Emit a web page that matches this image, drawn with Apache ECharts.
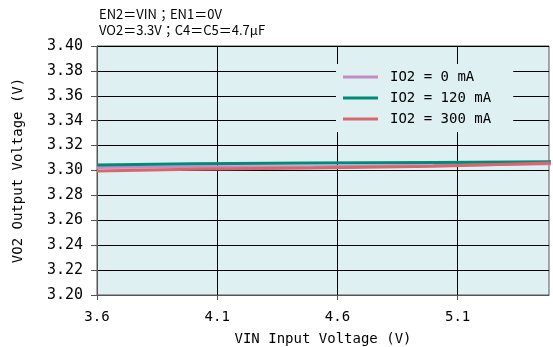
<!DOCTYPE html>
<html>
<head>
<meta charset="utf-8">
<script src="https://cdn.jsdelivr.net/npm/echarts@6/dist/echarts.min.js"></script>
<style>
  html, body { margin: 0; padding: 0; background: #fff; }
  #chart { width: 553px; height: 347px; }
</style>
</head>
<body>
<div id="chart"></div>
<script>
// input voltage (V)
const vin = [3.6, 4.0, 4.5, 5.0, 5.5];
// output voltage (V) per load current
const io0 = [3.3025, 3.3030, 3.3030, 3.3040, 3.3055];
const io120 = [3.3045, 3.3055, 3.3060, 3.3065, 3.3070];
const io300 = [3.2995, 3.3010, 3.3020, 3.3035, 3.3060];
const seriesNames = ["IO2 = 0 mA", "IO2 = 120 mA", "IO2 = 300 mA"];
const xTicks = [3.6, 4.1, 4.6, 5.1];

const colors = ["#c48cc4", "#008a78", "#d8666a"];
const mono = "DejaVu Sans Mono";

const chart = echarts.init(document.getElementById("chart"));

const pts = (ys) => vin.map((x, i) => [x, ys[i]]);

const option = {
  animation: false,
  title: {
    text: "EN2＝VIN；EN1＝0V\nVO2＝3.3V；C4＝C5＝4.7μF",
    left: 94,
    top: 1,
    textStyle: {
      fontFamily: "Noto Sans CJK JP",
      fontSize: 13,
      fontWeight: "normal",
      color: "#000",
      lineHeight: 16,
    },
  },
  grid: {
    left: 97,
    right: 4,
    top: 46,
    bottom: 52,
    outerBoundsMode: "none",
    containLabel: false,
    show: true,
    backgroundColor: "#dff0f3",
    borderColor: "#555",
    borderWidth: 1,
  },
  legend: {
    orient: "vertical",
    left: 336,
    top: 64,
    backgroundColor: "#dff0f3",
    padding: [6, 22, 6, 7],
    itemGap: 7,
    itemWidth: 35,
    itemHeight: 3,
    icon: "rect",
    data: seriesNames,
    textStyle: {
      fontFamily: mono,
      fontSize: 14,
      color: "#000",
      padding: [0, 0, 0, 7],
    },
  },
  xAxis: {
    type: "value",
    min: 3.6,
    max: 5.48,
    name: "VIN Input Voltage (V)",
    nameLocation: "middle",
    nameGap: 37,
    nameTextStyle: { fontFamily: mono, fontSize: 14, color: "#000" },
    axisLine: { lineStyle: { color: "#555" } },
    axisTick: { show: true, customValues: xTicks, length: 5, lineStyle: { color: "#555" } },
    axisLabel: {
      customValues: xTicks,
      fontFamily: mono,
      fontSize: 14,
      color: "#000",
      margin: 15,
      formatter: (v) => v.toFixed(1),
    },
    splitLine: { show: true, lineStyle: { color: "#000", width: 1 } },
  },
  yAxis: {
    type: "value",
    min: 3.2,
    max: 3.4,
    interval: 0.02,
    name: "VO2 Output Voltage (V)",
    nameLocation: "middle",
    nameGap: 72,
    nameRotate: 90,
    nameTextStyle: { fontFamily: mono, fontSize: 14, color: "#000" },
    axisLine: { show: true, lineStyle: { color: "#555" } },
    axisTick: { show: true, length: 6, lineStyle: { color: "#555" } },
    axisLabel: {
      fontFamily: mono,
      fontSize: 15,
      color: "#000",
      margin: 14,
      formatter: (v) => v.toFixed(2),
    },
    splitLine: { show: true, lineStyle: { color: "#000", width: 1 } },
  },
  series: [
    { name: seriesNames[0], type: "line", data: pts(io0) },
    { name: seriesNames[1], type: "line", data: pts(io120) },
    { name: seriesNames[2], type: "line", data: pts(io300) },
  ].map((s, i) => ({
    ...s,
    showSymbol: false,
    symbol: "none",
    color: colors[i],
    lineStyle: { color: colors[i], width: 3 },
  })),
};

chart.setOption(option);
</script>
</body>
</html>
